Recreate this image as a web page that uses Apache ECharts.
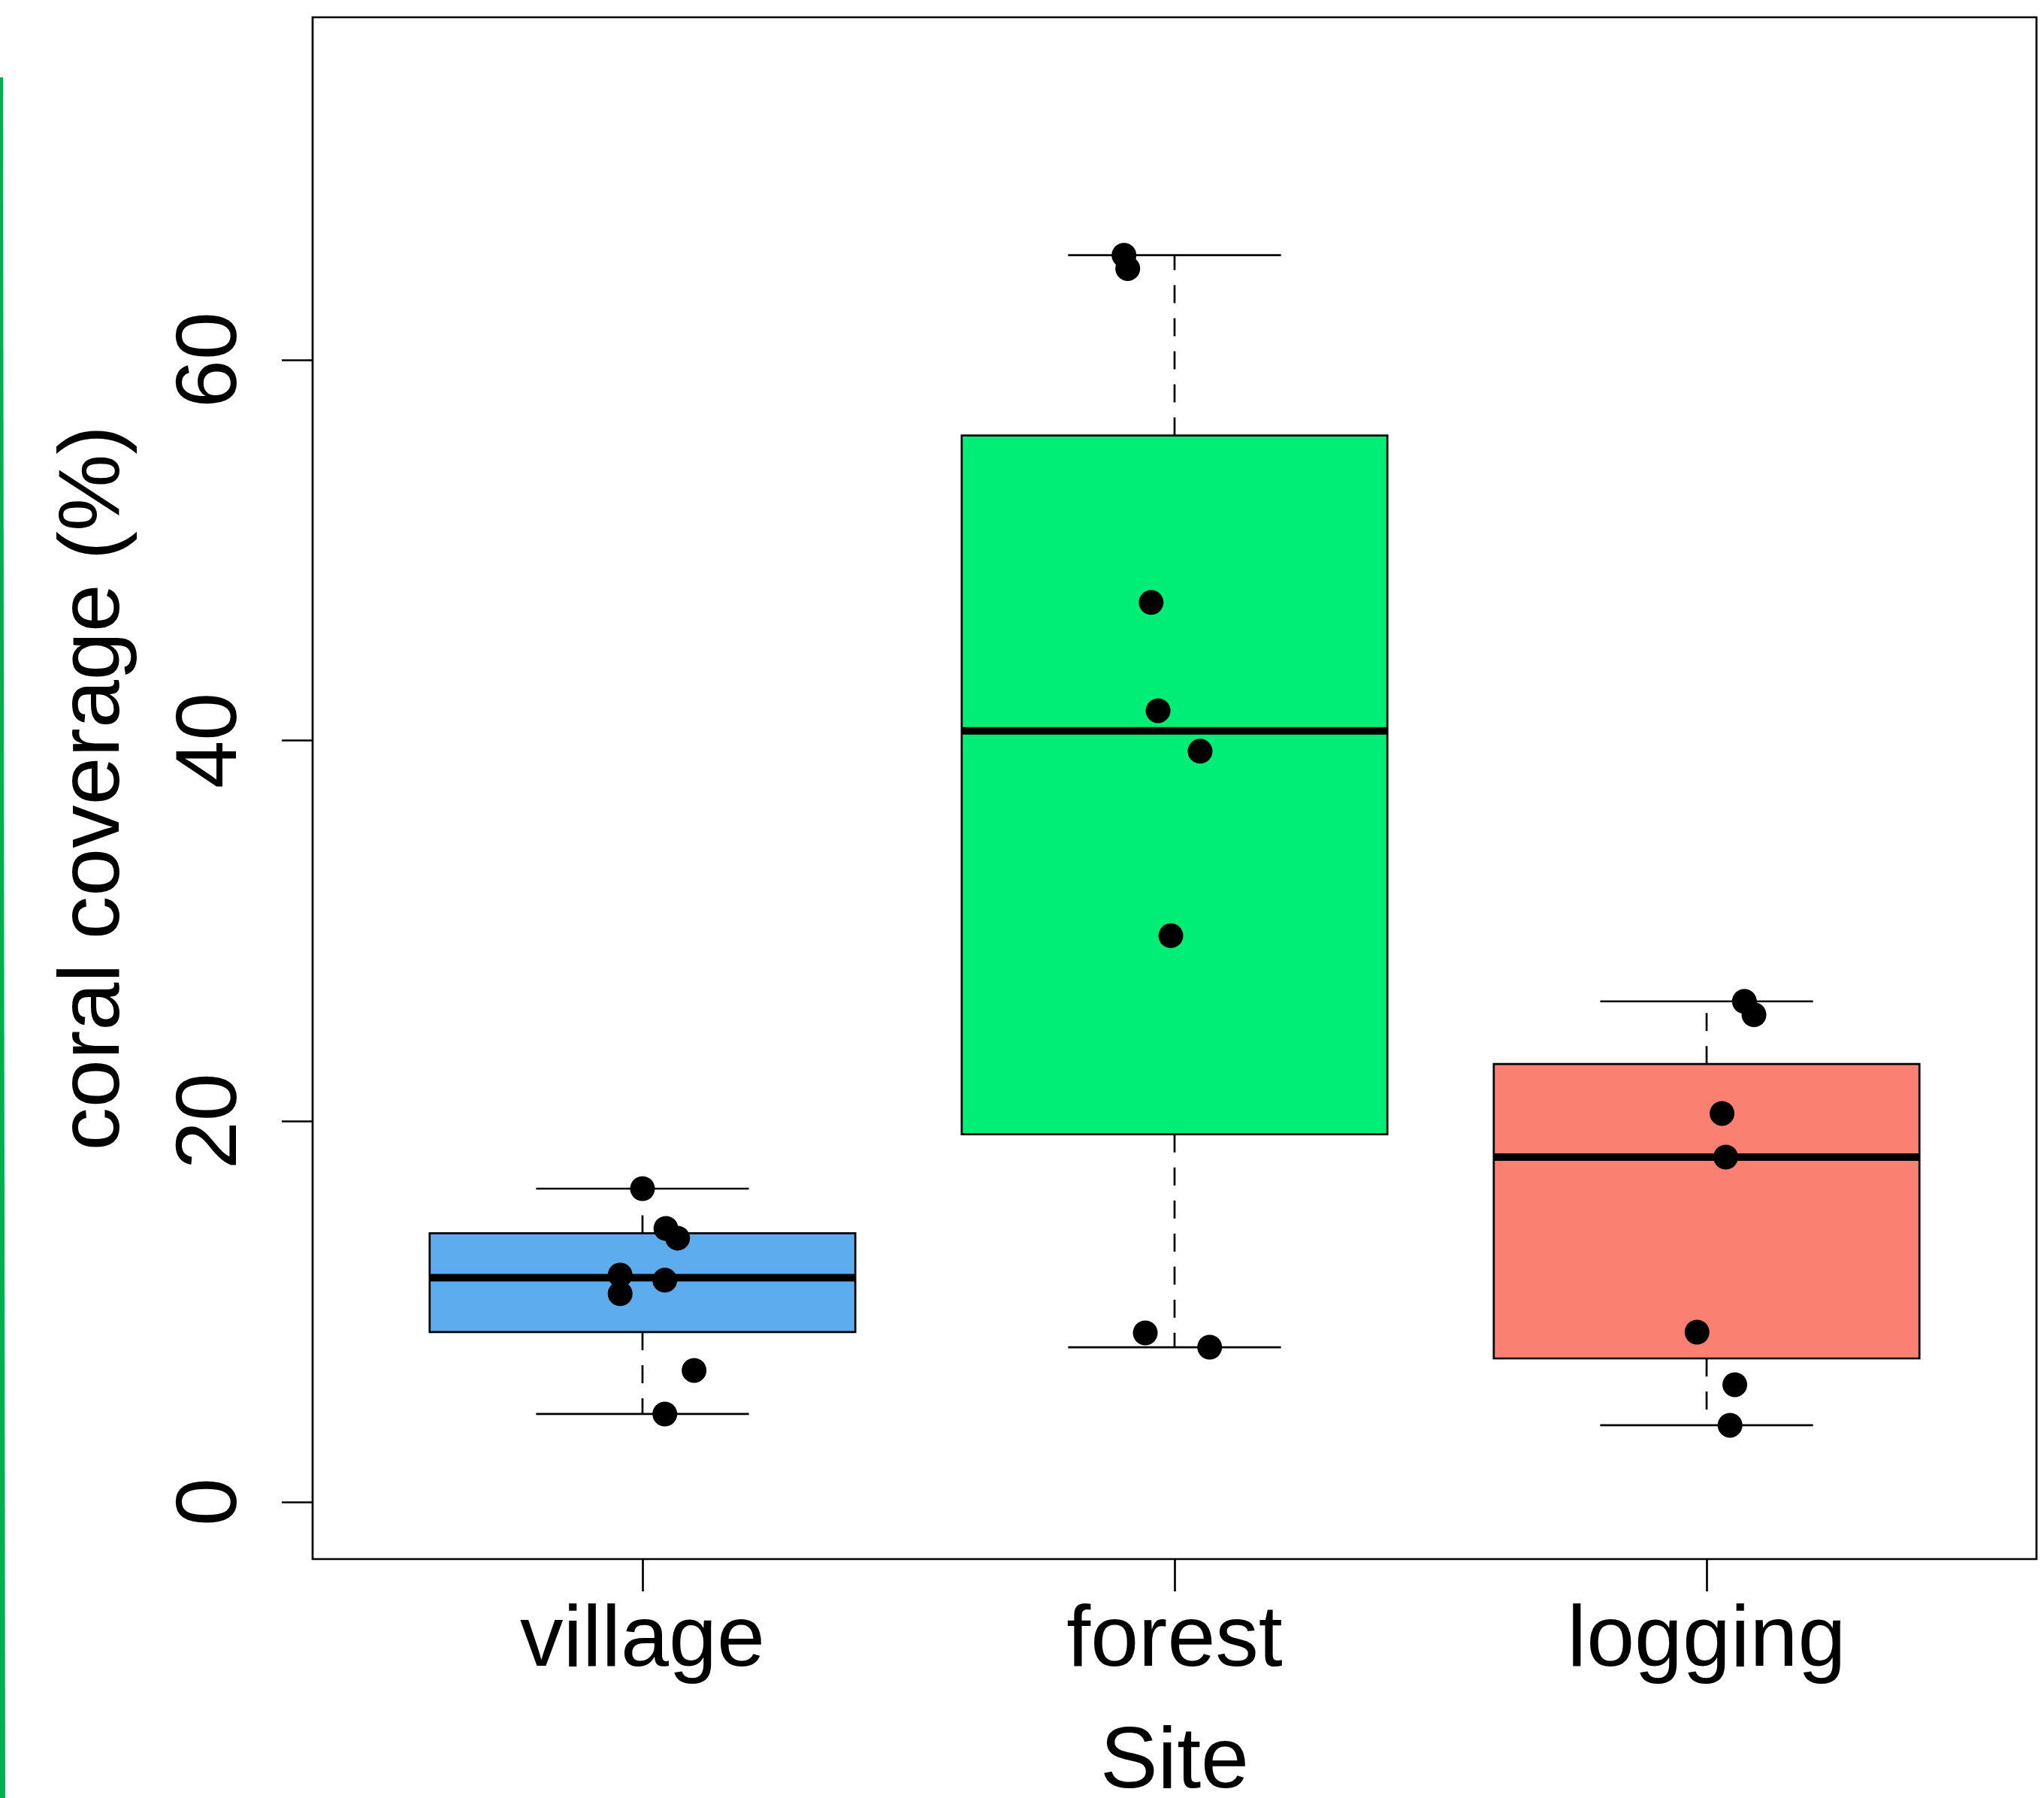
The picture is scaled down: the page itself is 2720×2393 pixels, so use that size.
<!DOCTYPE html>
<html>
<head>
<meta charset="utf-8">
<script src="https://cdn.jsdelivr.net/npm/echarts@6/dist/echarts.min.js"></script>
<style>
  html, body { margin: 0; padding: 0; background: #ffffff; overflow: hidden; }
  #chart { width: 2720px; height: 2393px; }
</style>
</head>
<body>
<div id="chart"></div>
<script>
// ---- data ----
var categories = ['village', 'forest', 'logging'];
var boxColors = ['#5CACEE', '#00EE76', '#FA8072'];

var villageValues = [16.46, 14.37, 13.86, 11.92, 10.94, 11.65, 6.91, 4.62];
var villageJitter = [0.000, 0.044, 0.066, -0.042, -0.042, 0.042, 0.097, 0.042];

var forestValues = [65.5, 64.8, 47.26, 41.57, 39.44, 29.75, 8.88, 8.13];
var forestJitter = [-0.095, -0.088, -0.044, -0.031, 0.048, -0.007, -0.055, 0.066];

var loggingValues = [26.3, 25.6, 20.41, 18.12, 8.92, 6.16, 4.03];
var loggingJitter = [0.071, 0.089, 0.029, 0.036, -0.018, 0.053, 0.044];

var yTicks = [0, 20, 40, 60];
var xTicks = [1, 2, 3];

var groups = [villageValues, forestValues, loggingValues];
var jitters = [villageJitter, forestJitter, loggingJitter];

// Tukey five-number summary + whiskers (as R boxplot.stats)
function boxStats(vals) {
  var s = vals.slice().sort(function (a, b) { return a - b; });
  var n = s.length;
  var n4 = Math.floor((n + 3) / 2) / 2;
  var d = [1, n4, (n + 1) / 2, n + 1 - n4, n];
  var f = d.map(function (k) { return 0.5 * (s[Math.floor(k) - 1] + s[Math.ceil(k) - 1]); });
  var iqr = f[3] - f[1];
  var lo = f[1] - 1.5 * iqr, hi = f[3] + 1.5 * iqr;
  var inside = s.filter(function (v) { return v >= lo && v <= hi; });
  return [inside[0], f[1], f[2], f[3], inside[inside.length - 1]];
}

var boxData = groups.map(function (g, i) {
  var st = boxStats(g);
  return [i + 1].concat(st).concat([i]);
});

var pointData = [];
groups.forEach(function (g, i) {
  g.forEach(function (v, j) { pointData.push([i + 1 + jitters[i][j], v]); });
});

var FONT = '"Liberation Sans", Arial, sans-serif';
var LW = 2.7;

var chart = echarts.init(document.getElementById('chart'), null, { renderer: 'canvas' });

chart.setOption({
  backgroundColor: '#ffffff',
  animation: false,
  grid: {
    left: 416, top: 23, right: 10, bottom: 318,
    outerBoundsMode: 'none', containLabel: false,
    show: true, borderColor: '#000000', borderWidth: LW, backgroundColor: 'transparent'
  },
  xAxis: {
    type: 'value', min: 0.38, max: 3.62,
    name: 'Site', nameLocation: 'middle', nameGap: 215,
    nameTextStyle: { fontFamily: FONT, fontSize: 115, color: '#000' },
    axisLine: { show: false, onZero: false },
    splitLine: { show: false },
    axisTick: { show: true, length: 43, customValues: xTicks, lineStyle: { color: '#000', width: LW } },
    axisLabel: {
      customValues: xTicks, margin: 53,
      fontFamily: FONT, fontSize: 115, color: '#000',
      formatter: function (v) { return categories[Math.round(v) - 1] || ''; }
    }
  },
  yAxis: {
    type: 'value', min: -3, max: 78,
    name: 'coral coverage (%)', nameLocation: 'middle', nameRotate: 90, nameGap: 232,
    nameTextStyle: { fontFamily: FONT, fontSize: 115, color: '#000' },
    axisLine: { show: false, onZero: false },
    splitLine: { show: false },
    axisTick: { show: true, length: 41, customValues: yTicks, lineStyle: { color: '#000', width: LW } },
    axisLabel: {
      customValues: yTicks, rotate: 90, margin: 76,
      fontFamily: FONT, fontSize: 115, color: '#000'
    }
  },
  graphic: [{
    type: 'polygon', silent: true,
    shape: { points: [[0, 103], [4, 103], [7, 2393], [0, 2393]] },
    style: { fill: '#00B050' }
  }],
  series: [
    {
      type: 'custom',
      data: boxData,
      clip: false,
      renderItem: function (params, api) {
        var x = api.value(0);
        var mn = api.value(1), q1 = api.value(2), md = api.value(3), q3 = api.value(4), mx = api.value(5);
        var ci = api.value(6);
        var c = function (xx, yy) { return api.coord([xx, yy]); };
        var boxL = c(x - 0.4, q3), boxR = c(x + 0.4, q1);
        var capL = c(x - 0.2, 0)[0], capR = c(x + 0.2, 0)[0];
        var cx = c(x, 0)[0];
        var yMin = c(x, mn)[1], yQ1 = c(x, q1)[1], yMd = c(x, md)[1], yQ3 = c(x, q3)[1], yMax = c(x, mx)[1];
        var solid = { stroke: '#000', lineWidth: LW, fill: null };
        var dashed = { stroke: '#000', lineWidth: LW, lineDash: [24, 20], fill: null };
        return {
          type: 'group',
          children: [
            { type: 'line', shape: { x1: cx, y1: yQ1, x2: cx, y2: yMin }, style: dashed },
            { type: 'line', shape: { x1: cx, y1: yQ3, x2: cx, y2: yMax }, style: dashed },
            { type: 'line', shape: { x1: capL, y1: yMin, x2: capR, y2: yMin }, style: solid },
            { type: 'line', shape: { x1: capL, y1: yMax, x2: capR, y2: yMax }, style: solid },
            { type: 'rect', shape: { x: boxL[0], y: boxL[1], width: boxR[0] - boxL[0], height: boxR[1] - boxL[1] },
              style: { fill: boxColors[ci], stroke: '#000', lineWidth: LW } },
            { type: 'line', shape: { x1: boxL[0], y1: yMd, x2: boxR[0], y2: yMd },
              style: { stroke: '#000', lineWidth: 10 } }
          ]
        };
      },
      z: 2
    },
    {
      type: 'scatter',
      data: pointData,
      symbol: 'circle',
      symbolSize: 33,
      itemStyle: { color: '#000000', opacity: 1 },
      z: 3
    }
  ]
});
</script>
</body>
</html>
